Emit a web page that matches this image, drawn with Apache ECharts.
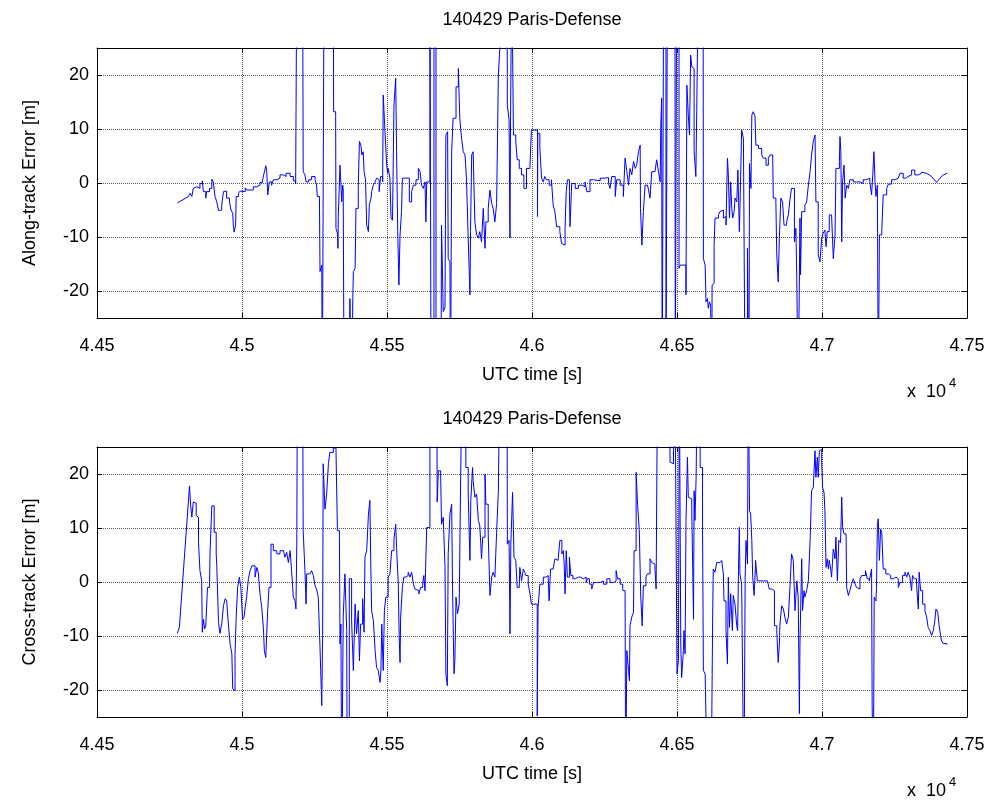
<!DOCTYPE html>
<html>
<head>
<meta charset="utf-8">
<title>140429 Paris-Defense</title>
<script src="https://cdn.jsdelivr.net/npm/echarts@6/dist/echarts.min.js"></script>
<style>
html, body { margin: 0; padding: 0; background: #fff; }
#main { width: 996px; height: 803px; }
</style>
</head>
<body>
<div id="main"></div>
<script>
// texts
var chartTitle = '140429 Paris-Defense';
var xName = 'UTC time [s]';
var yNames = ['Along-track Error [m]', 'Cross-track Error [m]'];

// [UTC time (s), error (m)], values past +-25 are clipped
// lead / tail parts are straight ramps, the rest of each trace is stepped
var alongLead = [[44777,-3.7],[44815,-2.5]];
var alongTrack = [
[44815,-2.5],[44821,-1.9],[44827,-2.5],[44832,-1.0],[44838,-0.7],[44844,-1.0],[44855,-0.1],[44863,0.4],[44867,-1.6],[44875,-2.8],[44878,-1.6],[44888,-1.0],[44896,0.7],[44901,0.2],[44907,-2.5],[44913,-3.5],[44919,-5.1],[44924,-5.0],[44930,-4.1],[44936,-1.6],[44942,-1.5],[44947,-2.8],[44957,-3.5],[44962,-5.0],[44968,-5.6],[44970,-7.8],[44973,-9.1],[44978,-7.8],[44980,-2.5],[44988,-1.9],[44993,-1.5],[44999,-1.6],[45011,-0.9],[45016,-1.3],[45028,-1.3],[45039,-0.7],[45051,-0.4],[45062,0.1],[45071,0.6],[45077,2.0],[45082,3.2],[45085,2.4],[45089,-2.2],[45094,0.2],[45102,-0.4],[45108,0.6],[45120,0.9],[45131,1.5],[45143,1.2],[45152,1.8],[45166,1.2],[45177,0.4],[45185,-0.2],[45189,40],[45209,40],[45211,2.1],[45217,1.5],[45221,0.2],[45229,0.6],[45240,1.2],[45252,0.6],[45257,-0.4],[45260,-2.5],[45267,-2.5],[45269,-16.4],[45275,-15.2],[45277,-40],[45283,40],[45315,40],[45316,13.2],[45323,12.3],[45324,-8.4],[45329,-9.3],[45331,-12.1],[45332,-6.2],[45336,-5.9],[45338,3.3],[45344,-3.5],[45347,-0.4],[45349,-1.0],[45352,-40],[45370,-40],[45372,-21.4],[45378,-40],[45382,-21.4],[45384,-16.4],[45390,-15.8],[45393,-4.7],[45401,-0.4],[45405,7.7],[45410,7.0],[45413,5.2],[45418,5.8],[45421,2.1],[45426,0.6],[45430,-7.8],[45436,-9.0],[45439,-4.1],[45445,-2.8],[45447,-1.6],[45453,-0.4],[45459,0.2],[45464,0.9],[45470,0.6],[45473,-1.6],[45478,1.2],[45485,0.2],[45487,16.3],[45493,9.5],[45499,3.3],[45502,1.8],[45504,2.7],[45510,0.9],[45514,-6.5],[45519,-6.9],[45524,14.4],[45530,19.4],[45533,5.8],[45537,-9.0],[45541,-18.9],[45545,-9.6],[45550,-5.3],[45553,0.9],[45562,1.2],[45568,0.9],[45577,-3.5],[45585,-1.6],[45591,-0.4],[45600,0.6],[45608,2.7],[45614,2.1],[45619,-0.4],[45625,-1.0],[45631,0.2],[45634,-7.2],[45637,0.2],[45648,40],
[45652,-40],[45662,40],[45669,-40],[45686,-40],[45688,-7.8],[45690,-7.5],[45694,-23.8],[45700,-23.0],[45703,8.9],[45709,9.5],[45711,-14.0],[45717,-14.6],[45719,-40],[45723,5.8],[45728,12.0],[45738,17.8],[45746,21.2],[45751,12.0],[45757,8.3],[45763,5.8],[45769,5.2],[45774,0.9],[45780,-10.2],[45786,-20.7],[45788,-9.0],[45792,5.2],[45797,5.8],[45803,-7.2],[45809,-9.6],[45815,-10.2],[45820,-9.0],[45826,-10.9],[45832,-4.7],[45838,-12.1],[45841,-7.2],[45849,-4.7],[45855,-1.3],[45861,-3.8],[45866,-4.7],[45872,-7.2],[45878,-3.8],[45884,20.0],[45889,24.9],[45892,40],[45914,40],[45915,14.4],[45921,11.7],[45924,-10.2],[45926,11.4],[45930,40],[45935,40],[45936,8.9],[45944,7.7],[45949,4.3],[45956,2.7],[45964,1.5],[45972,-1.0],[45981,2.7],[45993,3.3],[45998,9.8],[46019,-6.2],[46020,9.2],[46027,6.4],[46033,0.9],[46039,0.2],[46044,1.2],[46050,0.6],[46059,-0.4],[46067,0.6],[46073,-4.1],[46079,-5.3],[46085,-8.1],[46096,-9.0],[46102,-11.2],
[46108,-11.5],[46114,-8.4],[46118,-1.6],[46122,0.6],[46129,-1.6],[46131,-8.1],[46137,-0.1],[46149,-1.0],[46160,-0.4],[46172,-0.7],[46183,0.2],[46189,-1.6],[46200,0.6],[46212,0.4],[46235,0.9],[46252,1.0],[46264,-0.1],[46269,-1.0],[46275,1.2],[46287,-2.5],[46292,0.6],[46304,-0.4],[46315,-2.5],[46321,4.6],[46327,2.1],[46333,-0.4],[46338,2.7],[46344,1.5],[46350,4.0],[46356,2.7],[46361,3.3],[46367,5.8],[46373,7.0],[46374,-4.7],[46379,-11.5],[46384,-5.3],[46390,-0.4],[46398,-0.1],[46401,-1.0],[46407,-2.8],[46413,2.1],[46424,2.1],[46430,4.3],[46436,2.1],[46442,0.2],[46444,10.4],[46447,15.7],[46449,-40],[46454,40],[46462,-40],[46467,40],[46493,40],[46494,-40],[46499,40],[46507,-15.8],[46511,-15.2],[46522,-15.2],[46531,-20.7],[46534,18.1],[46539,12.6],[46543,8.9],[46547,23.7],[46551,21.5],[46556,21.2],[46559,5.8],[46565,1.2],[46568,13.2],[46574,40],[46590,40],[46591,-14.0],[46597,-15.2],[46600,-22.0],[46605,-21.4],[46608,-23.2],[46612,-22.0],[46616,-22.6],[46620,-40],[46621,-18.9],[46623,-18.6],[46628,-11.5],[46631,-6.5],[46643,-5.9],[46648,-5.3],[46654,-5.0],[46660,-6.5],[46666,-6.2],[46669,-7.8],[46674,4.6],[46677,1.5],[46681,-6.5],[46685,0.2],[46689,-4.7],[46692,-6.5],[46697,-5.3],[46700,-2.8],[46706,-3.5],[46710,2.4],[46715,-9.0],[46717,-4.7],[46723,9.8],[46729,8.3],[46735,-40],[46743,-12.1],[46748,-40],[46750,3.6],[46755,-1.0],[46758,12.6],[46763,13.2],[46769,12.3],[46772,7.0],[46781,6.4],[46792,5.2],[46798,4.6],[46807,3.3],[46815,4.6],[46821,5.2],[46830,5.2],[46832,-2.8],[46841,-3.5],[46844,-13.3],[46849,-18.3],[46853,-10.2],[46858,-2.8],[46864,-3.5],[46869,-7.8],[46878,-7.2],[46884,-5.9],[46890,-2.8],[46895,-1.0],[46901,-1.0],[46905,-10.9],[46910,-8.4],[46913,-17.7],[46918,-40],[46924,-6.5],[46926,-17.0],[46930,-5.3],[46941,-4.1],[46947,-3.5],[46953,-0.4],[46959,2.1],[46964,5.2],[46970,7.7],[46976,8.9],[46979,-3.5],[46987,-13.3],[46993,-14.6],[46999,-10.2],[47004,-9.3],[47010,-8.7],[47014,-11.8],[47018,-9.0],[47025,-5.9],[47033,-5.6],[47039,-14.0],[47045,-9.6],[47048,2.7],[47053,2.7],[47060,4.0],[47062,8.6],[47065,5.8],[47068,-10.9],[47071,0.2],[47076,3.3],[47080,-2.8],[47085,-0.4],[47091,-1.0],[47096,0.6],[47108,0.2],[47119,0.2],[47131,-0.1],[47142,0.6],[47154,0.9],[47165,0.2],[47171,-2.2],[47175,1.5],[47179,5.8],[47183,0.2],[47186,-2.5],[47191,-0.4],[47194,-40],[47198,-9.6],[47206,-9.0],[47211,-2.2],[47223,-1.0],[47229,-0.2],[47240,0.6],[47252,0.9],[47263,1.2],[47269,1.8],[47280,0.9],[47289,1.2],[47297,1.5],[47309,2.4],[47320,1.5],[47332,1.8],[47343,2.0]
];
var alongTail = [[47343,2.0],[47361,1.8],[47378,1.2],[47395,0.1],[47407,0.9],[47418,1.5],[47432,1.8]];

var crossLead = [[44777,-9.5],[44784,-8.4],[44819,17.8]];
var crossTrack = [
[44819,17.8],[44823,14.1],[44827,12.0],[44832,14.8],[44838,14.6],[44842,12.3],[44846,12.0],[44850,7.3],[44855,2.1],[44861,0.2],[44863,-9.3],[44867,-6.9],[44871,-8.7],[44875,-8.1],[44881,-1.0],[44888,-0.4],[44890,5.8],[44896,14.1],[44901,14.1],[44904,9.2],[44911,5.2],[44913,3.0],[44919,-7.5],[44924,-9.5],[44930,-7.8],[44936,-4.4],[44942,-3.1],[44947,-3.5],[44953,-7.8],[44959,-11.5],[44965,-13.3],[44968,-19.8],[44973,-20.1],[44976,-13.3],[44980,-6.5],[44985,-1.0],[44991,0.9],[44996,-1.0],[45002,-6.9],[45007,-6.5],[45011,-4.7],[45016,-2.8],[45022,0.6],[45028,2.1],[45034,3.0],[45039,3.0],[45045,0.9],[45051,2.7],[45056,1.8],[45062,-2.2],[45068,-4.7],[45074,-8.7],[45077,-12.7],[45082,-14.0],[45088,-5.9],[45093,-1.0],[45100,7.0],[45108,5.8],[45120,5.2],[45131,5.8],[45143,5.7],[45148,4.6],[45154,5.5],[45160,3.6],[45166,5.8],[45171,2.1],[45177,-2.8],[45183,-3.5],[45186,-5.0],[45189,7.0],[45191,40],[45209,40],[45211,9.5],[45217,2.1],[45221,-4.1],[45223,1.5],[45234,1.8],[45240,2.1],[45246,1.2],[45252,-0.7],[45257,-1.3],[45263,-2.8],[45269,-12.1],[45275,-22.9],[45278,-9.9],[45280,21.9],[45286,13.5],[45292,16.3],[45298,21.9],[45303,24.0],[45315,24.8],[45324,24.8],[45329,9.5],[45336,8.3],[45338,-11.5],[45341,-7.8],[45344,-40],[45349,-6.5],[45355,1.5],[45361,-9.0],[45363,-40],[45370,0.6],[45378,-7.2],[45384,-16.4],[45390,-4.1],[45395,-9.6],[45401,-5.3],[45405,-14.6],[45409,-7.8],[45416,-3.1],[45421,-9.3],[45424,4.6],[45430,5.8],[45436,12.6],[45441,15.1],[45444,3.3],[45447,-5.3],[45453,-7.2],[45459,-12.7],[45464,-15.8],[45470,-16.4],[45476,-18.6],[45479,-16.4],[45482,-7.8],[45487,-16.4],[45491,-5.3],[45496,-2.8],[45504,0.9],[45510,1.5],[45516,5.8],[45524,8.0],[45530,10.7],[45533,6.4],[45539,-0.4],[45542,-10.2],[45545,-14.9],[45547,-6.5],[45553,-1.0],[45558,0.9],[45565,1.2],[45573,1.8],[45579,0.9],[45585,1.8],[45591,-0.4],[45596,-1.3],[45602,-1.6],[45610,-2.2],[45616,-1.0],[45623,-0.4],[45627,1.2],[45631,-1.6],[45637,10.1],[45648,40],
[45672,40],[45673,14.8],[45677,20.6],[45685,20.0],[45688,10.7],[45694,12.0],[45700,2.7],[45703,-17.0],[45708,-19.2],[45711,5.2],[45717,12.6],[45723,14.4],[45726,-1.0],[45731,-17.0],[45734,-14.6],[45738,-2.8],[45743,-5.9],[45749,-4.1],[45754,19.4],[45759,40],[45771,40],[45772,21.2],[45780,16.3],[45786,4.0],[45789,15.1],[45795,21.2],[45797,18.8],[45803,15.7],[45809,16.3],[45815,11.4],[45820,10.4],[45826,4.3],[45830,8.3],[45838,20.0],[45841,14.4],[45849,8.9],[45855,-2.5],[45861,0.9],[45866,1.8],[45872,0.9],[45878,9.2],[45884,16.9],[45889,40],[45914,40],[45915,7.0],[45921,7.7],[45924,-9.6],[45927,7.0],[45933,16.6],[45938,4.6],[45944,4.0],[45949,-1.0],[45956,-1.3],[45958,2.7],[45964,0.2],[45970,2.4],[45975,1.8],[45979,1.2],[45987,-0.4],[45993,-2.2],[45998,-4.1],[46018,-24.8],[46021,-4.7],[46027,-0.4],[46039,0.9],[46048,1.2],[46056,0.6],[46059,-3.5],[46064,2.4],[46073,2.1],[46079,4.3],[46085,4.0],[46090,4.3],[46096,7.7],
[46103,5.2],[46108,5.8],[46111,3.3],[46114,-2.2],[46118,5.8],[46122,0.9],[46129,4.6],[46134,1.2],[46141,0.6],[46149,0.9],[46160,0.9],[46168,0.6],[46177,0.9],[46187,-0.1],[46191,0.6],[46198,-0.4],[46206,-1.3],[46212,-0.1],[46223,-0.1],[46235,0.2],[46246,-0.4],[46258,0.6],[46269,-0.1],[46281,0.2],[46290,2.1],[46295,0.6],[46304,-0.4],[46313,-1.6],[46321,-2.2],[46323,-40],[46327,-12.7],[46333,-16.4],[46336,-18.3],[46338,-8.1],[46344,-6.5],[46350,-5.6],[46352,5.8],[46359,20.3],[46364,14.4],[46370,9.5],[46375,-2.8],[46380,-8.1],[46384,-0.7],[46393,0.9],[46398,1.5],[46407,4.3],[46413,3.6],[46419,3.3],[46424,2.4],[46428,-1.3],[46433,40],[46475,40],[46476,22.2],[46482,21.9],[46488,23.7],[46493,40],[46499,40],[46500,-17.0],[46505,-14.6],[46508,40],[46513,-11.5],[46516,-17.7],[46522,-12.7],[46524,-9.0],[46528,-13.3],[46531,11.4],[46536,23.1],[46539,15.7],[46545,15.4],[46551,13.2],[46557,-6.9],[46559,16.9],[46562,11.4],[46566,19.4],[46570,40],[46579,40],[46580,21.2],[46588,10.7],[46591,-16.4],[46597,-17.0],[46600,-25.1],[46620,-25.1],[46623,-6.5],[46625,2.4],[46631,1.8],[46637,3.6],[46648,3.6],[46654,4.0],[46660,1.5],[46662,-3.5],[46669,-9.0],[46674,-15.2],[46677,0.9],[46681,-8.4],[46685,-2.2],[46691,-9.0],[46694,-2.5],[46700,-4.1],[46706,-8.1],[46709,-9.0],[46712,2.1],[46715,10.1],[46717,1.5],[46723,-0.4],[46727,-21.7],[46731,-40],[46735,0.9],[46738,7.7],[46743,3.3],[46746,40],[46748,40],[46750,13.2],[46754,12.6],[46758,7.7],[46761,0.9],[46766,-2.5],[46769,0.9],[46771,4.0],[46777,0.2],[46786,0.2],[46798,0.2],[46812,-0.1],[46818,-1.3],[46827,-1.6],[46832,-1.6],[46836,-8.1],[46844,-9.0],[46846,-11.5],[46849,-14.9],[46853,-11.5],[46855,-7.8],[46861,-4.4],[46867,-5.0],[46872,-6.5],[46878,-7.8],[46884,-6.5],[46890,-0.4],[46895,5.2],[46901,4.0],[46907,-5.3],[46913,0.2],[46918,-2.8],[46922,-24.4],[46924,-11.5],[46930,4.3],[46933,-5.3],[46938,-1.6],[46941,-2.8],[46947,-1.6],[46953,0.2],[46959,7.7],[46964,16.9],[46970,17.5],[46976,24.3],[46979,19.4],[46984,23.1],[46987,19.4],[46991,24.3],
[46993,24.6],[46999,22.2],[47002,17.5],[47007,16.6],[47010,13.2],[47014,2.7],[47018,4.3],[47022,2.4],[47025,4.0],[47030,2.4],[47033,0.9],[47039,6.1],[47045,4.3],[47048,8.3],[47053,0.2],[47058,7.7],[47064,7.3],[47068,15.7],[47071,10.1],[47076,8.9],[47083,8.6],[47085,-1.0],[47091,-2.5],[47096,-1.6],[47102,-0.4],[47108,0.6],[47114,-0.4],[47119,-1.0],[47125,-1.3],[47131,0.6],[47137,1.2],[47142,1.2],[47150,2.1],[47156,0.6],[47163,0.2],[47169,-0.1],[47171,2.4],[47173,-22.6],[47177,-40],[47180,-2.8],[47186,-3.5],[47188,-1.0],[47191,10.7],[47194,11.7],[47198,4.0],[47202,9.8],[47206,9.2],[47211,2.4],[47220,1.5],[47229,1.2],[47237,0.6],[47246,0.9],[47255,0.6],[47263,-1.0],[47269,-0.1],[47278,1.2],[47286,1.8],[47292,0.9],[47297,1.8],[47303,0.9],[47309,-1.6],[47312,1.2],[47318,0.6],[47326,-0.4],[47332,-5.0],[47335,1.8],[47340,-1.6],[47347,-4.1],[47355,-5.3],[47361,-6.5],[47366,-8.4],[47372,-9.0],[47378,-9.9],[47384,-9.0],[47389,-7.2],[47393,-5.0],[47399,-5.6],[47404,-8.1],[47409,-9.9],[47412,-10.9],[47418,-11.4],[47430,-11.6]
];

var fontFam = '"Liberation Sans", Arial, sans-serif';
var gridTops = [48, 447];
var plotH = 270;

function xAxisFor(gi, pos) {
    var main = pos === 'bottom';
    return {
        type: 'value', gridIndex: gi, position: pos,
        min: 44500, max: 47500, interval: 500,
        axisLine: { show: true, onZero: false, lineStyle: { color: '#000', width: 1 } },
        axisTick: { show: true, inside: true, length: 5, lineStyle: { color: '#000' } },
        axisLabel: {
            show: main, color: '#000', fontSize: 18, fontFamily: fontFam, margin: 19,
            formatter: function (v) { return String(+(v / 10000).toFixed(3)); }
        },
        splitLine: { show: main, lineStyle: { color: '#555', type: 'dotted', width: 1 } }
    };
}
function yAxisFor(gi, pos) {
    var main = pos === 'left';
    return {
        type: 'value', gridIndex: gi, position: pos,
        min: -25, max: 25, splitNumber: 5,
        axisLine: { show: true, onZero: false, lineStyle: { color: '#000', width: 1 } },
        axisTick: { show: true, inside: true, length: 5, lineStyle: { color: '#000' } },
        axisLabel: {
            show: main, color: '#000', fontSize: 18, fontFamily: fontFam, margin: 8,
            showMinLabel: false, showMaxLabel: false
        },
        splitLine: { show: main, lineStyle: { color: '#555', type: 'dotted', width: 1 } }
    };
}

function txt(x, y, s, size, align, rot) {
    return {
        type: 'text', x: x, y: y, rotation: rot || 0, silent: true,
        style: {
            text: s, fill: '#000', font: size + 'px ' + fontFam,
            align: align, verticalAlign: 'middle',
            textAlign: align, textVerticalAlign: 'middle'
        }
    };
}

var graphics = [];
for (var i = 0; i < 2; i++) {
    var t = gridTops[i];
    graphics.push(txt(532, t - 28, chartTitle, 18, 'center'));
    graphics.push(txt(30, t + plotH / 2, yNames[i], 18, 'center', Math.PI / 2));
    graphics.push(txt(532, t + plotH + 57, xName, 18, 'center'));
    graphics.push(txt(907, t + plotH + 74, 'x  10', 18, 'left'));
    graphics.push(txt(949, t + plotH + 65, '4', 13, 'left'));
}

function traceSeries(data, xi, yi, step) {
    return {
        type: 'line', xAxisIndex: xi, yAxisIndex: yi,
        data: data, showSymbol: false, symbol: 'none', clip: true, step: step,
        lineStyle: { color: '#0000ff', width: 1 }
    };
}

var myChart = echarts.init(document.getElementById('main'), null, { renderer: 'canvas' });
var option = {
    animation: false,
    backgroundColor: '#fff',
    grid: [
        { left: 97, width: 870, top: gridTops[0], height: plotH },
        { left: 97, width: 870, top: gridTops[1], height: plotH }
    ],
    xAxis: [xAxisFor(0, 'bottom'), xAxisFor(0, 'top'), xAxisFor(1, 'bottom'), xAxisFor(1, 'top')],
    yAxis: [yAxisFor(0, 'left'), yAxisFor(0, 'right'), yAxisFor(1, 'left'), yAxisFor(1, 'right')],
    graphic: graphics,
    series: [
        traceSeries(alongLead, 0, 0, false),
        traceSeries(alongTrack, 0, 0, 'end'),
        traceSeries(alongTail, 0, 0, false),
        traceSeries(crossLead, 2, 2, false),
        traceSeries(crossTrack, 2, 2, 'end')
    ]
};
myChart.setOption(option);
</script>
</body>
</html>
